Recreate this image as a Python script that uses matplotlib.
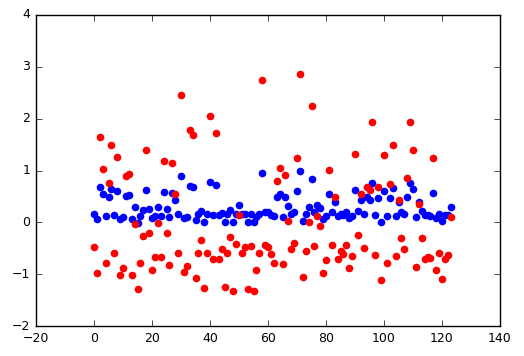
import numpy as np
import matplotlib
matplotlib.use("Agg")
import matplotlib.pyplot as plt

blue_values = [
    0.17, 0.06, 0.69, 0.54, 0.12, 0.48, 0.65, 0.15, 0.60, 0.06,
    0.11, 0.50, 0.52, 0.06, 0.30, -0.01, 0.12, 0.23, 0.62, 0.26,
    0.08, 0.13, 0.30, 0.13, 0.58, 0.26, 0.10, 0.56, 0.43, 0.16,
    0.89, 0.08, 0.10, 0.71, 0.69, 0.04, 0.16, 0.22, 0.00, 0.17,
    0.77, 0.15, 0.72, 0.15, 0.18, 0.00, 0.17, 0.24, 0.00, 0.17,
    0.33, 0.17, 0.16, 0.00, 0.17, 0.00, 0.10, 0.17, 0.96, 0.20,
    0.19, 0.15, 0.12, 0.48, 0.55, 0.11, 0.49, 0.31, 0.17, 0.20,
    0.60, 0.99, 0.03, 0.17, 0.29, 0.84, 0.20, 0.33, 0.27, 0.06,
    0.13, 0.54, 0.19, 0.40, 0.13, 0.17, 0.15, 0.19, 0.08, 0.13,
    0.62, 0.22, 0.43, 0.17, 0.49, 0.44, 0.75, 0.14, 0.47, 0.01,
    0.60, 0.13, 0.47, 0.66, 0.12, 0.40, 0.20, 0.17, 0.49, 0.75,
    0.64, 0.10, 0.40, 0.22, 0.14, 0.14, 0.12, 0.57, 0.08, 0.16,
    0.03, 0.14, 0.14, 0.30,
]

red_values = [
    -0.48, -0.98, 1.64, 1.02, -0.79, 0.75, 1.50, -0.60, 1.27, -1.02,
    -0.89, 0.90, 0.93, -1.02, -0.03, -1.29, -0.79, -0.26, 1.40, -0.21,
    -0.92, -0.66, -0.02, -0.66, 1.18, -0.21, -0.82, 1.14, 0.55, -0.60,
    2.46, -0.95, -0.84, 1.78, 1.68, -1.08, -0.60, -0.35, -1.26, -0.60,
    2.05, -0.71, 1.72, -0.70, -0.52, -1.25, -0.59, -0.29, -1.33, -0.41,
    0.15, -0.59, -0.48, -1.29, -0.46, -1.33, -0.92, -0.60, 2.75, -0.44,
    -0.47, -0.61, -0.79, 0.80, 1.04, -0.80, 0.91, 0.03, -0.52, -0.39,
    1.25, 2.86, -1.06, -0.56, 0.00, 2.25, -0.46, 0.12, -0.08, -0.98,
    -0.73, 1.01, -0.44, 0.48, -0.70, -0.55, -0.62, -0.44, -0.89, -0.65,
    1.31, -0.25, 0.55, -0.50, 0.68, 0.62, 1.93, -0.63, 0.68, -1.11,
    1.30, -0.79, 0.74, 1.49, -0.65, 0.43, -0.31, -0.52, 0.85, 1.93,
    1.40, -0.87, 0.35, -0.31, -0.70, -0.66, -0.68, 1.24, -0.92, -0.60,
    -1.09, -0.70, -0.63, 0.10,
]

x_ticks = [-20, 0, 20, 40, 60, 80, 100, 120, 140]
y_ticks = [-2, -1, 0, 1, 2, 3, 4]

plt.style.use("classic")
plt.rcParams["font.family"] = ["DejaVu Sans"]

fig = plt.figure(figsize=(5.24, 3.56), dpi=100, facecolor="white")
ax = fig.add_axes([36 / 524, 1 - 326 / 356, (500 - 36) / 524, (326 - 15) / 356])

xb = np.arange(len(blue_values))
xr = np.arange(len(red_values))
ax.plot(xb, blue_values, "o", color="#0000ff", markeredgecolor="#0000ff",
        markersize=5.5, markeredgewidth=0)
ax.plot(xr, red_values, "o", color="#ff0000", markeredgecolor="#ff0000",
        markersize=5.5, markeredgewidth=0)

ax.set_xlim(-20, 140)
ax.set_ylim(-2, 4)
ax.set_xticks(x_ticks)
ax.set_yticks(y_ticks)
ax.tick_params(labelsize=9, direction="in", top=True, right=True)

fig.savefig("out.png", dpi=100, facecolor="white")
